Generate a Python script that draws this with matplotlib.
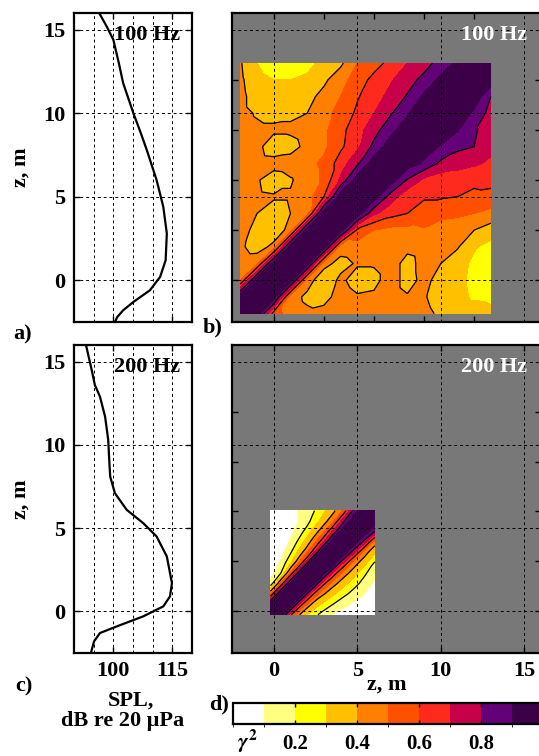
import numpy as np
import matplotlib
matplotlib.use("Agg")
import matplotlib.pyplot as plt
import matplotlib.tri as mtri
from matplotlib.colors import ListedColormap, BoundaryNorm
from matplotlib.cm import ScalarMappable

plt.rcParams['font.family'] = 'Liberation Serif'
plt.rcParams['font.weight'] = 'bold'
plt.rcParams['mathtext.fontset'] = 'stix'

# SPL profiles (dB re 20 uPa) against depth z (m)
spl100_z = [16.0, 15.2, 14.4, 13.0, 11.8, 10.0, 8.8, 7.8, 6.0, 4.4, 2.8, 1.2, 0.2, -0.6, -1.3, -1.8, -2.2, -2.5]
spl100 = [96.4, 98.3, 100.0, 101.4, 102.5, 105.1, 107.0, 108.5, 111.0, 112.7, 113.6, 113.3, 111.9, 109.3, 105.1, 102.5, 101.0, 100.4]
spl200_z = [16.0, 14.5, 13.6, 12.9, 11.7, 10.3, 8.9, 8.1, 7.1, 6.1, 5.3, 4.5, 3.3, 1.7, 0.9, 0.3, -0.3, -0.9, -1.3, -1.8, -2.5]
spl200 = [93.05, 94.5, 95.3, 96.6, 97.9, 98.7, 99.0, 99.2, 100.4, 103.4, 107.6, 111.0, 113.6, 114.9, 114.4, 112.7, 107.6, 100.9, 96.6, 95.1, 94.3]

# coherence gamma^2 between depths; rows from the top (largest z) down, columns left to right
z100 = [-2, -1, 0, 1, 2, 3, 4, 5, 6, 7, 8, 9, 10, 11, 12, 13]
coh100 = [
    [0.41, 0.30, 0.25, 0.24, 0.27, 0.33, 0.38, 0.50, 0.56, 0.63, 0.70, 0.76, 0.84, 0.92, 0.98, 1.00],
    [0.42, 0.33, 0.30, 0.30, 0.32, 0.38, 0.46, 0.55, 0.63, 0.69, 0.76, 0.83, 0.93, 0.98, 1.00, 0.97],
    [0.43, 0.35, 0.33, 0.33, 0.37, 0.43, 0.50, 0.59, 0.66, 0.73, 0.81, 0.92, 0.98, 1.00, 0.97, 0.80],
    [0.43, 0.39, 0.37, 0.38, 0.40, 0.47, 0.53, 0.62, 0.70, 0.79, 0.89, 0.97, 1.00, 0.97, 0.88, 0.76],
    [0.44, 0.42, 0.42, 0.42, 0.45, 0.48, 0.57, 0.66, 0.76, 0.87, 0.96, 1.00, 0.97, 0.91, 0.81, 0.76],
    [0.45, 0.43, 0.34, 0.36, 0.43, 0.48, 0.58, 0.68, 0.83, 0.96, 1.00, 0.96, 0.89, 0.82, 0.80, 0.73],
    [0.45, 0.45, 0.44, 0.45, 0.47, 0.52, 0.65, 0.78, 0.96, 1.00, 0.96, 0.88, 0.78, 0.75, 0.72, 0.68],
    [0.45, 0.41, 0.35, 0.39, 0.45, 0.52, 0.72, 0.96, 1.00, 0.96, 0.79, 0.68, 0.64, 0.63, 0.62, 0.63],
    [0.45, 0.42, 0.41, 0.41, 0.45, 0.60, 0.97, 1.00, 0.96, 0.75, 0.63, 0.61, 0.61, 0.60, 0.58, 0.57],
    [0.46, 0.40, 0.36, 0.40, 0.46, 0.97, 1.00, 0.97, 0.72, 0.64, 0.60, 0.56, 0.53, 0.52, 0.50, 0.47],
    [0.45, 0.36, 0.33, 0.44, 0.97, 1.00, 0.97, 0.58, 0.50, 0.47, 0.47, 0.49, 0.45, 0.44, 0.40, 0.35],
    [0.42, 0.35, 0.43, 0.97, 1.00, 0.97, 0.44, 0.45, 0.45, 0.45, 0.43, 0.45, 0.44, 0.41, 0.31, 0.27],
    [0.47, 0.48, 0.97, 1.00, 0.97, 0.43, 0.37, 0.41, 0.41, 0.45, 0.36, 0.44, 0.40, 0.34, 0.28, 0.24],
    [0.50, 0.97, 1.00, 0.97, 0.44, 0.34, 0.42, 0.36, 0.37, 0.45, 0.36, 0.43, 0.36, 0.33, 0.27, 0.23],
    [0.97, 1.00, 0.97, 0.44, 0.38, 0.36, 0.45, 0.41, 0.42, 0.45, 0.41, 0.41, 0.35, 0.34, 0.28, 0.26],
    [1.00, 0.97, 0.55, 0.45, 0.42, 0.44, 0.45, 0.45, 0.46, 0.46, 0.45, 0.43, 0.38, 0.37, 0.39, 0.35],
]

z200 = [-0.2, 0.425, 1.05, 1.675, 2.3, 2.925, 3.55, 4.175, 4.8, 5.425, 6.05]
coh200 = [
    [0.04, 0.05, 0.07, 0.12, 0.18, 0.27, 0.37, 0.52, 0.85, 0.99, 1.00],
    [0.03, 0.03, 0.05, 0.12, 0.22, 0.34, 0.48, 0.78, 0.99, 1.00, 0.99],
    [0.03, 0.03, 0.08, 0.18, 0.32, 0.46, 0.72, 0.99, 1.00, 0.99, 0.80],
    [0.03, 0.04, 0.12, 0.27, 0.43, 0.67, 0.99, 1.00, 0.99, 0.76, 0.45],
    [0.03, 0.06, 0.20, 0.38, 0.62, 0.98, 1.00, 0.99, 0.73, 0.45, 0.32],
    [0.03, 0.12, 0.30, 0.58, 0.98, 1.00, 0.98, 0.70, 0.45, 0.34, 0.19],
    [0.06, 0.20, 0.55, 0.98, 1.00, 0.98, 0.68, 0.45, 0.35, 0.22, 0.13],
    [0.12, 0.52, 0.97, 1.00, 0.98, 0.65, 0.44, 0.34, 0.24, 0.16, 0.08],
    [0.50, 0.97, 1.00, 0.97, 0.63, 0.42, 0.32, 0.23, 0.16, 0.10, 0.05],
    [0.97, 1.00, 0.97, 0.62, 0.38, 0.28, 0.20, 0.13, 0.08, 0.05, 0.04],
    [1.00, 0.97, 0.60, 0.35, 0.25, 0.16, 0.09, 0.05, 0.03, 0.03, 0.03],
]

levels = [0.0, 0.1, 0.2, 0.3, 0.4, 0.5, 0.6, 0.7, 0.8, 0.9, 1.0]
line_levels = [0.2, 0.4, 0.6, 0.8]
colors = ['#ffffff', '#ffff80', '#ffff00', '#ffc000', '#ff8000',
          '#ff5000', '#ff2a1e', '#c8004a', '#640078', '#3c0048']
cb_ticks = [0.2, 0.4, 0.6, 0.8, 1.0]
cb_labels = ['0.2', '0.4', '0.6', '0.8', '1']

spl_grid = [95, 100, 105, 110, 115]
spl_ticks = [100, 115]
z_grid = [0, 5, 10, 15]

cmap = ListedColormap(colors)
norm = BoundaryNorm(levels, cmap.N)

FS = 16
W, H = 539, 756
fig = plt.figure(figsize=(W / 100, H / 100), dpi=100)


def box(x0, y0, x1, y1):
    return [x0 / W, 1 - y1 / H, (x1 - x0) / W, (y1 - y0) / H]


def ftext(x, y, s, **kw):
    fig.text(x / W, 1 - y / H, s, fontsize=FS, fontweight='bold', **kw)


dash = (0, (3, 3))


def frame(ax):
    for side in ("top", "bottom", "left", "right"):
        ax.spines[side].set_linewidth(1.6)
    ax.tick_params(direction='in', top=True, right=True, length=4, width=1,
                   labelsize=FS, pad=6)


def spl_panel(ax, spl, z, label):
    ax.plot(spl, z, color='k', lw=1.6, zorder=4)
    ax.set_xlim(90, 120)
    ax.set_ylim(-2.5, 16)
    for v in spl_grid:
        ax.axvline(v, color='k', lw=0.7, ls=dash, zorder=2)
    for v in z_grid:
        ax.axhline(v, color='k', lw=0.7, ls=dash, zorder=2)
    ax.set_xticks(spl_ticks)
    ax.set_yticks(z_grid)
    frame(ax)
    ax.set_ylabel('z, m', fontsize=FS, fontweight='bold', labelpad=9)
    ax.text(0.90, 0.929, label, transform=ax.transAxes, ha='right', va='center',
            fontsize=FS, fontweight='bold', zorder=5)


def coh_panel(ax, z, rows, label, xticks, yticks):
    zz = np.array(z)
    X, Y = np.meshgrid(zz, zz)
    n = len(zz)
    tris = []
    for j in range(n - 1):
        for i in range(n - 1):
            k = j * n + i
            tris.append([k, k + 1, k + n + 1])
            tris.append([k, k + n + 1, k + n])
    tri = mtri.Triangulation(X.ravel(), Y.ravel(), tris)
    Z = np.array(rows)[::-1].ravel()
    ax.set_facecolor('#787878')
    ax.tricontourf(tri, Z, levels=levels, cmap=cmap, norm=norm, zorder=1)
    ax.tricontour(tri, Z, levels=line_levels, colors='k', linewidths=0.9, zorder=2)
    ax.set_xlim(-2.5, 16)
    ax.set_ylim(-2.5, 16)
    for v in z_grid:
        ax.axvline(v, color='k', lw=0.7, ls=dash, zorder=3)
        ax.axhline(v, color='k', lw=0.7, ls=dash, zorder=3)
    ax.set_xticks(xticks)
    ax.set_yticks(yticks)
    frame(ax)
    ax.set_yticklabels([])
    ax.text(0.955, 0.929, label, transform=ax.transAxes, ha='right', va='center',
            fontsize=FS, fontweight='bold', color='white', zorder=5)


ax_a = fig.add_axes(box(74, 13, 192, 322))
ax_c = fig.add_axes(box(74, 345, 192, 653))
ax_b = fig.add_axes(box(232, 13, 541, 322))
ax_d = fig.add_axes(box(232, 345, 541, 653))
cax = fig.add_axes(box(233, 703, 543, 724))

spl_panel(ax_a, spl100, spl100_z, '100 Hz')
ax_a.set_xticklabels([])
spl_panel(ax_c, spl200, spl200_z, '200 Hz')
ax_c.tick_params(axis='x', pad=6)

coh_panel(ax_b, z100, coh100, '100 Hz', [0, 3, 6, 9, 12], [0, 3, 6, 9, 12])
ax_b.set_xticklabels([])
coh_panel(ax_d, z200, coh200, '200 Hz', [0, 5, 10, 15], [0, 3, 6, 9, 12])
ax_d.tick_params(axis='x', pad=6)

cb = fig.colorbar(ScalarMappable(norm=norm, cmap=cmap), cax=cax,
                  orientation='horizontal', ticks=cb_ticks)
cb.outline.set_linewidth(1.6)
cb.ax.set_xticklabels(cb_labels)
cb.ax.tick_params(direction='in', top=True, bottom=True, length=3, width=1,
                  labelsize=15, pad=7)

ftext(23, 334, 'a)', ha='center', va='center')
ftext(213, 327, 'b)', ha='center', va='center')
ftext(24, 686, 'c)', ha='center', va='center')
ftext(219, 704, 'd)', ha='center', va='center')
ftext(131, 701, 'SPL,', ha='center', va='center')
ftext(123, 721, 'dB re 20 \u03bcPa', ha='center', va='center')
ftext(387, 685, 'z, m', ha='center', va='center')
ftext(247, 741, r'$\gamma^2$', ha='center', va='center')

fig.savefig('out.png', dpi=100)
